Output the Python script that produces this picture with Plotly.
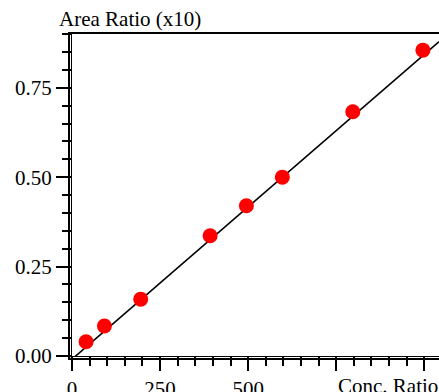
import plotly.graph_objects as go

conc_ratio = [40, 92, 195, 392, 495, 597, 797, 996]
area_ratio = [0.040, 0.084, 0.159, 0.336, 0.420, 0.500, 0.683, 0.855]
fit_x = [0, 1042]
fit_y = [-0.009, 0.879]
x_ticks = [0, 250, 500, 750, 1000]
x_labels = ["0", "250", "500", "", ""]
y_ticks = [0.0, 0.25, 0.5, 0.75]
y_labels = ["0.00", "0.25", "0.50", "0.75"]

FONT = "Liberation Serif, Times New Roman, serif"
W, H = 439, 392
L, R, T, B = 72, 0, 33, 36
pw, ph = W - L - R, H - T - B

fig = go.Figure()
fig.add_trace(go.Scatter(x=fit_x, y=fit_y, mode="lines",
                         line=dict(color="black", width=1.6), showlegend=False))
fig.add_trace(go.Scatter(x=conc_ratio, y=area_ratio, mode="markers",
                         marker=dict(color="#ff0000", size=15, line=dict(width=0)),
                         showlegend=False, cliponaxis=False))

def px_x(p):
    return (p - L) / pw

def px_y(p):
    return (H - B - p) / ph

shapes = []
# left double line
shapes.append(dict(type="line", xref="paper", yref="paper", x0=px_x(69), x1=px_x(69),
                   y0=px_y(33), y1=px_y(360), line=dict(color="black", width=2)))
shapes.append(dict(type="line", xref="paper", yref="paper", x0=px_x(71.5), x1=px_x(71.5),
                   y0=px_y(33), y1=px_y(357), line=dict(color="black", width=1)))
# bottom double line
shapes.append(dict(type="line", xref="paper", yref="paper", x0=px_x(68), x1=1,
                   y0=px_y(356.5), y1=px_y(356.5), line=dict(color="black", width=1)))
shapes.append(dict(type="line", xref="paper", yref="paper", x0=px_x(68), x1=1,
                   y0=px_y(359), y1=px_y(359), line=dict(color="black", width=2)))
# top border
shapes.append(dict(type="line", xref="paper", yref="paper", x0=px_x(68), x1=1,
                   y0=px_y(33), y1=px_y(33), line=dict(color="black", width=2)))

fig.update_layout(
    width=W, height=H,
    margin=dict(l=L, r=R, t=T, b=B, pad=0, autoexpand=False),
    paper_bgcolor="white", plot_bgcolor="white",
    font=dict(family=FONT, size=21, color="black"),
    shapes=shapes,
    xaxis=dict(range=[0, 1041.7], showgrid=False, zeroline=False, showline=False,
               automargin=False,
               tickmode="array", tickvals=x_ticks, ticktext=x_labels,
               ticks="outside", ticklen=14, tickwidth=1.5, tickcolor="black",
               minor=dict(ticks="outside", ticklen=9, tickwidth=1.5, tickcolor="black",
                          tick0=0, dtick=50),
               tickfont=dict(family=FONT, size=21)),
    yaxis=dict(range=[0, 0.903], showgrid=False, zeroline=False, showline=False,
               automargin=False,
               tickmode="array", tickvals=y_ticks, ticktext=y_labels,
               ticks="outside", ticklen=15, tickwidth=1.5, tickcolor="black",
               minor=dict(ticks="outside", ticklen=9, tickwidth=1.5, tickcolor="black",
                          tick0=0, dtick=0.05),
               tickfont=dict(family=FONT, size=21)),
    annotations=[
        dict(text="Area Ratio (x10)", xref="paper", yref="paper",
             x=px_x(57), y=1, xanchor="left", yanchor="bottom",
             showarrow=False, font=dict(family=FONT, size=21)),
        dict(text="Conc. Ratio", xref="x", yref="paper",
             x=750, y=px_y(372), xanchor="left", yanchor="top",
             showarrow=False, font=dict(family=FONT, size=21)),
    ],
)

fig.write_html("out.html", config={"displayModeBar": False},
               post_script="document.body.style.margin='0';document.body.style.overflow='hidden';")
